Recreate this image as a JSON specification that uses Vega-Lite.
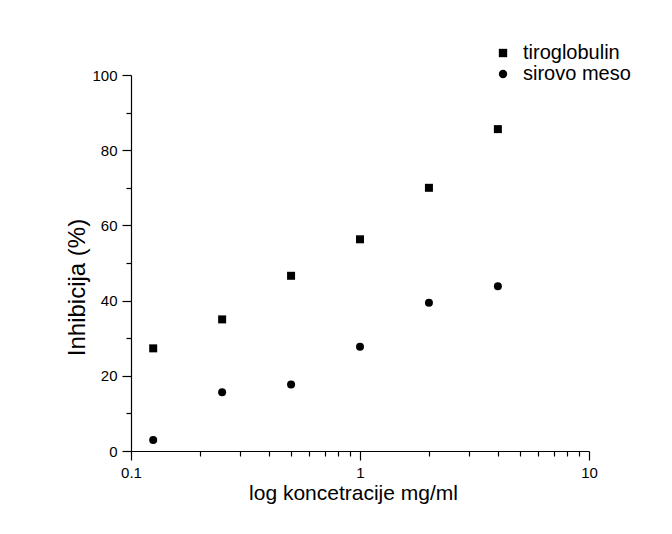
{
  "$schema": "https://vega.github.io/schema/vega-lite/v6.json",
  "autosize": "none",
  "width": 458,
  "height": 376,
  "padding": {"left": 131, "top": 75, "right": 83, "bottom": 83},
  "background": "white",
  "config": {
    "view": {"stroke": null},
    "font": "Liberation Sans",
    "axis": {
      "grid": false,
      "domainColor": "black",
      "tickColor": "black",
      "labelColor": "black",
      "titleColor": "black",
      "domainWidth": 1.2,
      "tickWidth": 1.2,
      "labelFont": "Liberation Sans",
      "titleFont": "Liberation Sans",
      "labelFontSize": 15,
      "titleFontWeight": "normal"
    },
    "legend": {"labelFont": "Liberation Sans"}
  },
  "data": {
    "values": [
      {"konc": 0.125, "inh": 27.3, "serija": "tiroglobulin"},
      {"konc": 0.25, "inh": 35.0, "serija": "tiroglobulin"},
      {"konc": 0.5, "inh": 46.6, "serija": "tiroglobulin"},
      {"konc": 1, "inh": 56.3, "serija": "tiroglobulin"},
      {"konc": 2, "inh": 70.0, "serija": "tiroglobulin"},
      {"konc": 4, "inh": 85.6, "serija": "tiroglobulin"},
      {"konc": 0.125, "inh": 2.9, "serija": "sirovo meso"},
      {"konc": 0.25, "inh": 15.6, "serija": "sirovo meso"},
      {"konc": 0.5, "inh": 17.7, "serija": "sirovo meso"},
      {"konc": 1, "inh": 27.7, "serija": "sirovo meso"},
      {"konc": 2, "inh": 39.4, "serija": "sirovo meso"},
      {"konc": 4, "inh": 43.8, "serija": "sirovo meso"}
    ]
  },
  "layer": [
    {
      "mark": {"type": "point", "filled": true, "opacity": 1, "color": "black", "size": 64},
      "encoding": {
        "x": {
          "field": "konc", "type": "quantitative",
          "scale": {"type": "log", "domain": [0.1, 10], "nice": false},
          "axis": {
            "orient": "bottom",
            "values": [0.1, 1, 10],
            "format": "~g",
            "tickSize": 9,
            "labelPadding": 5,
            "labelFlush": false,
            "title": "log koncetracije mg/ml",
            "titleFontSize": 21,
            "titlePadding": 2,
            "titleX": 222
          }
        },
        "y": {
          "field": "inh", "type": "quantitative",
          "scale": {"domain": [0, 100], "nice": false},
          "axis": {
            "orient": "left",
            "values": [0, 20, 40, 60, 80, 100],
            "tickSize": 9,
            "labelPadding": 5,
            "labelFlush": false,
            "title": "Inhibicija (%)",
            "titleFontSize": 24,
            "titlePadding": 2,
            "titleY": 212
          }
        },
        "shape": {
          "field": "serija", "type": "nominal",
          "scale": {"domain": ["tiroglobulin", "sirovo meso"], "range": ["square", "circle"]},
          "legend": {
            "title": null,
            "orient": "none",
            "legendX": 362,
            "legendY": -32,
            "padding": 0,
            "labelFontSize": 20,
            "labelColor": "black",
            "labelOffset": 10,
            "symbolSize": 70,
            "symbolFillColor": "black",
            "symbolStrokeColor": "black",
            "rowPadding": 1
          }
        }
      }
    },
    {
      "mark": {"type": "point", "opacity": 0},
      "encoding": {
        "x": {
          "field": "konc", "type": "quantitative",
          "axis": {
            "orient": "bottom",
            "values": [0.2, 0.3, 0.4, 0.5, 0.6, 0.7, 0.8, 0.9, 2, 3, 4, 5, 6, 7, 8, 9],
            "labels": false,
            "domain": false,
            "tickSize": 5,
            "title": null
          }
        },
        "y": {
          "field": "inh", "type": "quantitative",
          "axis": {
            "orient": "left",
            "values": [10, 30, 50, 70, 90],
            "labels": false,
            "domain": false,
            "tickSize": 5,
            "title": null
          }
        }
      }
    }
  ],
  "resolve": {"axis": {"x": "independent", "y": "independent"}}
}
